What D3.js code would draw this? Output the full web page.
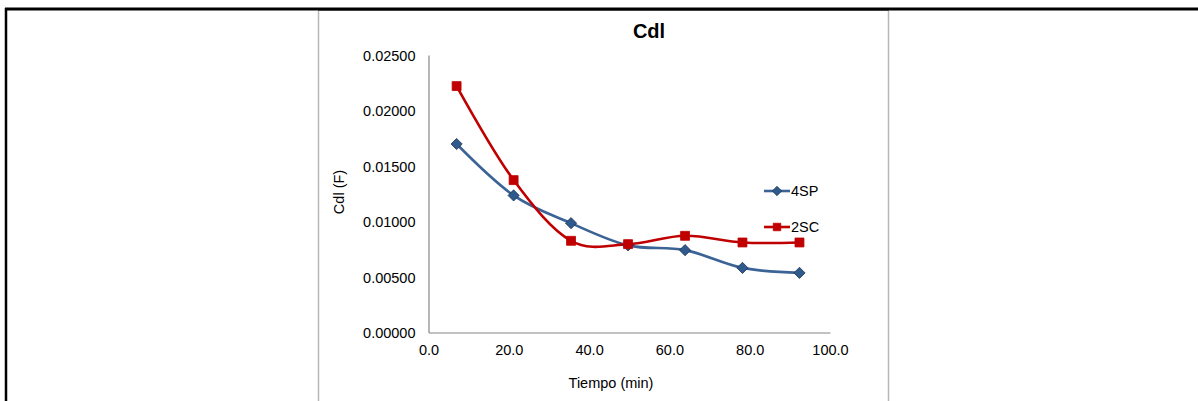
<!DOCTYPE html>
<html>
<head>
<meta charset="utf-8">
<script src="https://cdn.jsdelivr.net/npm/d3@7"></script>
<style>
  html, body { margin: 0; padding: 0; background: #fff; }
  svg { display: block; font-family: "Liberation Sans", Arial, sans-serif; }
</style>
</head>
<body>
<svg id="chart" width="1198" height="401"></svg>
<script>
// Time (min) of each measurement
const tiempo = [7.0, 21.2, 35.5, 49.7, 63.9, 78.2, 92.4];
// Double-layer capacitance (F) for each coating
const cdl4SP = [0.01698, 0.01235, 0.00985, 0.00785, 0.00742, 0.00582, 0.00537];
const cdl2SC = [0.02220, 0.01373, 0.00826, 0.00796, 0.00871, 0.00811, 0.00811];
const seriesNames = ["4SP", "2SC"];
const xTicks = [0, 20, 40, 60, 80, 100];
const yTicks = [0, 0.005, 0.01, 0.015, 0.02, 0.025];

const svg = d3.select("#chart");
const FS = 14.5;

// Surrounding table frame
svg.append("line").attr("x1", 5).attr("x2", 1198).attr("y1", 9).attr("y2", 9)
  .attr("stroke", "#000").attr("stroke-width", 3);
svg.append("line").attr("x1", 6).attr("x2", 6).attr("y1", 8).attr("y2", 401)
  .attr("stroke", "#000").attr("stroke-width", 2.5);
// Chart box edges
[318.5, 888.5].forEach(x => {
  svg.append("line").attr("x1", x).attr("x2", x).attr("y1", 10.5).attr("y2", 401)
    .attr("stroke", "#b8b8b8").attr("stroke-width", 1.5);
});
svg.append("line").attr("x1", 318).attr("x2", 889).attr("y1", 10.5).attr("y2", 10.5)
  .attr("stroke", "#404040").attr("stroke-width", 1);

const x = d3.scaleLinear().domain([0, 100]).range([428.5, 830]);
const y = d3.scaleLinear().domain([0, 0.025]).range([332.5, 55]);

// Axes
const gx = svg.append("g").attr("transform", `translate(0,${y(0)})`)
  .call(d3.axisBottom(x).tickValues(xTicks).tickFormat(d3.format(".1f")).tickSize(0).tickPadding(12));
const gy = svg.append("g").attr("transform", `translate(${x(0)},0)`)
  .call(d3.axisLeft(y).tickValues(yTicks).tickFormat(d3.format(".5f")).tickSize(0).tickPadding(13));
[gx, gy].forEach(g => {
  g.select(".domain").attr("stroke", "#868686").attr("stroke-width", 1.2);
  g.selectAll("text").attr("fill", "#000").attr("font-size", FS)
    .attr("font-family", "'Liberation Sans', Arial, sans-serif");
});
gy.selectAll("text").attr("dy", "0.35em");

// Titles
svg.append("text").attr("x", 649).attr("y", 38).attr("text-anchor", "middle")
  .attr("font-size", 20).attr("font-weight", "bold").text("Cdl");
svg.append("text").attr("x", 611).attr("y", 388).attr("text-anchor", "middle")
  .attr("font-size", FS).text("Tiempo (min)");
svg.append("text").attr("transform", "translate(344,192) rotate(-90)")
  .attr("text-anchor", "middle").attr("font-size", FS).text("Cdl (F)");

const styles = [
  { name: seriesNames[0], values: cdl4SP, line: "#3b6396", fill: "#2e5a8e", stroke: "#1f3350", symbol: d3.symbolDiamond2, size: 80 },
  { name: seriesNames[1], values: cdl2SC, line: "#c00000", fill: "#c00000", stroke: "#c00000", symbol: d3.symbolSquare, size: 80 }
];

const lineGen = d3.line().x(d => x(d[0])).y(d => y(d[1])).curve(d3.curveCardinal.tension(0));

styles.forEach(s => {
  const pts = tiempo.map((t, i) => [t, s.values[i]]);
  svg.append("path").datum(pts).attr("d", lineGen)
    .attr("fill", "none").attr("stroke", s.line).attr("stroke-width", 2.6);
});
styles.forEach(s => {
  const pts = tiempo.map((t, i) => [t, s.values[i]]);
  svg.append("g").selectAll("path").data(pts).join("path")
    .attr("transform", d => `translate(${x(d[0])},${y(d[1])})`)
    .attr("d", d3.symbol().type(s.symbol).size(s.size))
    .attr("fill", s.fill).attr("stroke", s.stroke).attr("stroke-width", 0.8);
});

// Legend
styles.forEach((s, i) => {
  const ly = 191 + i * 36;
  const g = svg.append("g");
  g.append("line").attr("x1", 764).attr("x2", 790).attr("y1", ly).attr("y2", ly)
    .attr("stroke", s.line).attr("stroke-width", 2.6);
  g.append("path").attr("transform", `translate(777,${ly})`)
    .attr("d", d3.symbol().type(s.symbol).size(s.size * 0.7))
    .attr("fill", s.fill).attr("stroke", s.stroke).attr("stroke-width", 0.8);
  g.append("text").attr("x", 791).attr("y", ly).attr("dy", "0.36em")
    .attr("font-size", FS).text(s.name);
});
</script>
</body>
</html>
